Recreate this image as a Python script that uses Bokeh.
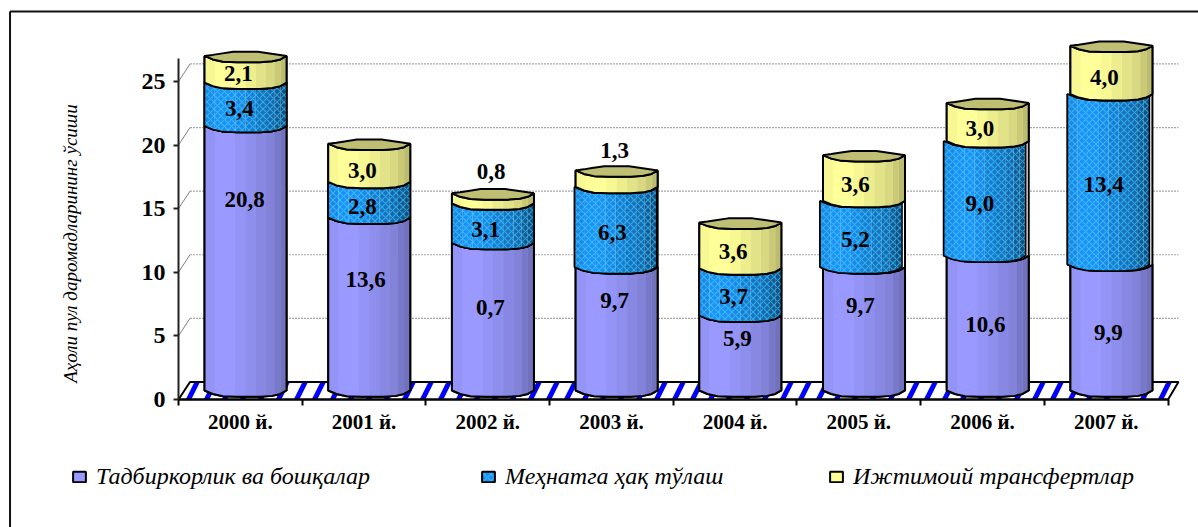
import numpy as np
from bokeh.plotting import figure
from bokeh.models import (ColumnDataSource, LinearAxis, FixedTicker, Legend, LegendItem, Range1d, Label)
from bokeh.core.properties import value
from bokeh.embed import file_html
from bokeh.resources import INLINE

# ---------- data ----------
years = ["2000 й.", "2001 й.", "2002 й.", "2003 й.", "2004 й.", "2005 й.", "2006 й.", "2007 й."]
business = [20.8, 13.6, 11.6, 9.7, 5.9, 9.7, 10.6, 9.9]
wages = [3.4, 2.8, 3.1, 6.3, 3.7, 5.2, 9.0, 13.4]
transfers = [2.1, 3.0, 0.8, 1.3, 3.6, 3.6, 3.0, 3.8]
business_labels = ["20,8", "13,6", "0,7", "9,7", "5,9", "9,7", "10,6", "9,9"]
wages_labels = ["3,4", "2,8", "3,1", "6,3", "3,7", "5,2", "9,0", "13,4"]
transfers_labels = ["2,1", "3,0", "0,8", "1,3", "3,6", "3,6", "3,0", "4,0"]
series_names = ["Тадбиркорлик ва бошқалар", "Меҳнатга ҳақ тўлаш", "Ижтимоий трансфертлар"]
y_ticks = [0, 5, 10, 15, 20, 25]
y_title = "Аҳоли пул даромадларининг ўсиши"

# label anchors as drawn in the reference (axis units)
label_x = [[.534, 1.512, 2.522, 3.525, 4.519, 5.513, 6.524, 7.518],
           [.493, 1.487, 2.482, 3.508, 4.487, 5.473, 6.479, 7.478],
           [.485, 1.487, 2.527, 3.525, 4.483, 5.473, 6.479, 7.486]]
label_y = [[15.7, 9.4, 7.2, 7.8, 4.8, 7.4, 5.9, 5.3],
           [22.9, 15.2, 13.4, 13.1, 8.1, 12.6, 15.4, 16.9],
           [25.6, 18.0, 17.9, 19.6, 11.6, 16.9, 21.3, 25.3]]
# sideways slip of the blue band in the reference's later bars
wage_shift = [0, 0, 0, .008, 0, .024, .024, .024]

# ---------- styles ----------
FONT = "Liberation Serif"
colors = ["#9999FF", "#1E90F5", "#FFFF99"]
LID = "#BFBF73"
shade_edges = np.array([-1, -.75, -.5, -.25, 0, .25, .5, .7, .85, 1])
shades = [.97, 1, 1, .97, .93, .89, .85, .79, .74]
shade_power = [1, 2, 1]
front_u = [-1, -.8, -.55, -.2, .35, .65, .85, 1]
front_v = [0, -.55, -.9, -1, -1, -.85, -.55, 0]
back_u = [1, .8, .55, .3, -.3, -.6, -.8, -1]
back_v = [0, .3, .65, 1, 1, .55, .25, 0]
HALF_W, CX_SHIFT, DEPTH_Y = 0.3315, 0.042, 0.71
FRONT_B, BACK_B = 0.5, 0.33
WALL_DX, WALL_DY = 0.093, 1.38
WALL_END = 8.084
HATCH = dict(hatch_pattern="diagonal_cross", hatch_color="#40D8FF", hatch_scale=7, hatch_weight=1.2, hatch_alpha=.55)

# the frame fills the page; the axes are pinned at the data origin inside it
p = figure(width=1198, height=527, output_backend="svg", toolbar_location=None,
           x_range=Range1d(-1.439, 8.246), y_range=Range1d(-10.063, 31.368),
           x_axis_type=None, y_axis_type=None,
           min_border_left=0, min_border_right=0, min_border_top=0, min_border_bottom=0)
p.outline_line_color = None
p.grid.visible = False
p.background_fill_color = "white"

# outer chart border: only its top and left sides fall inside the photo
p.segment([-1.362, -1.362], [30.5, 30.5], [8.246, -1.362], [30.5, -10.063], line_color="#111111", line_width=2)

# wall grid lines with their slanted feet
grid_vals = [v for v in y_ticks if v > 0]
p.segment([WALL_DX] * 5, [v + WALL_DY for v in grid_vals], [WALL_END] * 5, [v + WALL_DY for v in grid_vals],
          line_color="#A6A6A6", line_width=1.2, line_dash="2 1")
p.segment([0] * 5, grid_vals, [WALL_DX] * 5, [v + WALL_DY for v in grid_vals],
          line_color="#808080", line_width=1)

# striped floor
p.patch([0, WALL_DX, WALL_END, 8.0], [0, WALL_DY, WALL_DY, 0], fill_color="white",
        hatch_pattern="right_diagonal_line", hatch_color="#0000FF", hatch_scale=36, hatch_weight=5,
        line_color="black", line_width=2)


def edge(u, base):
    return base + np.interp(u, front_u, front_v) * FRONT_B


stack = np.array([business, wages, transfers], dtype=float)
bottoms = np.vstack([np.zeros(8), np.cumsum(stack, axis=0)[:-1]])
tops = np.cumsum(stack, axis=0)
centers = np.arange(8) + .5 + CX_SHIFT
base_rs = []
for s in range(3):
    bx, by, fx, sx, sy, sc = [], [], [], [], [], []
    rgb = np.array([int(colors[s][k:k + 2], 16) for k in (1, 3, 5)])
    for i, c in enumerate(centers):
        y0, y1 = bottoms[s][i] + DEPTH_Y, tops[s][i] + DEPTH_Y
        us = np.array(front_u)
        shift = wage_shift[i] if s == 1 else 0
        bx.append(list(c + us * HALF_W) + list(c + us[::-1] * HALF_W))
        fx.append(list(c - shift + us * HALF_W) + list(c - shift + us[::-1] * HALF_W))
        by.append(list(edge(us, y0)) + list(edge(us[::-1], y1)))
        for k, shade in enumerate(shades):
            seg = np.array([u for u in sorted(set(front_u) | {shade_edges[k], shade_edges[k + 1]})
                            if shade_edges[k] <= u <= shade_edges[k + 1]])
            sx.append(list(c - shift + seg * HALF_W) + list(c - shift + seg[::-1] * HALF_W))
            sy.append(list(edge(seg, y0)) + list(edge(seg[::-1], y1)))
            sc.append("#%02x%02x%02x" % tuple((rgb * shade ** shade_power[s]).astype(int)))
    extra = HATCH if s == 1 else {}
    base_rs.append(p.patches(fx, by, fill_color=colors[s], line_color="black", line_width=2, **extra))
    if s == 1:
        p.patches(bx, by, fill_color="white", line_color="black", line_width=2)
    p.patches(sx, sy, fill_color=sc, line_color=None)
    if s == 1:
        p.patches(fx, by, fill_alpha=0, line_color=None, **extra)
    p.patches(fx, by, fill_alpha=0, line_color="black", line_width=2 if s != 1 else 1.5)

# lids
lx, ly = [], []
for i, c in enumerate(centers):
    t = tops[2][i] + DEPTH_Y
    lx.append(list(c + np.array(front_u) * HALF_W) + list(c + np.array(back_u) * HALF_W))
    ly.append(list(t + np.array(front_v) * FRONT_B) + list(t + np.array(back_v) * BACK_B))
p.patches(lx, ly, fill_color=LID, line_color="black", line_width=2)

# value labels
all_labels = [business_labels, wages_labels, transfers_labels]
for s in range(3):
    src = ColumnDataSource(dict(x=label_x[s], y=label_y[s], t=all_labels[s]))
    p.text("x", "y", text="t", source=src, text_align="center", text_baseline="middle",
           text_font=value(FONT), text_font_style="bold", text_font_size="23px", text_color="black")

# axes
left = LinearAxis(ticker=FixedTicker(ticks=y_ticks), bounds=(0, 26.8), fixed_location=0)
left.major_tick_out, left.major_tick_in = 5, 0
left.minor_tick_line_color = None
left.axis_line_width = left.major_tick_line_width = 2
left.axis_line_color = left.major_tick_line_color = "#222222"
left.major_label_text_font = FONT
left.major_label_text_font_style = "bold"
left.major_label_text_font_size = "24px"
left.major_label_text_color = "black"
left.major_label_standoff = 8
p.add_layout(left, "left")

bottom = LinearAxis(ticker=FixedTicker(ticks=[i + .5 for i in range(8)], minor_ticks=list(range(9))),
                    bounds=(0, 8), fixed_location=0)
bottom.major_label_overrides = {i + .5: y for i, y in enumerate(years)}
bottom.major_tick_line_color = None
bottom.major_tick_out = 0
bottom.major_tick_in = 0
bottom.minor_tick_out, bottom.minor_tick_in = 6, 0
bottom.minor_tick_line_width = bottom.axis_line_width = 2
bottom.minor_tick_line_color = bottom.axis_line_color = "black"
bottom.major_label_text_font = FONT
bottom.major_label_text_font_style = "bold"
bottom.major_label_text_font_size = "21px"
bottom.major_label_text_color = "black"
bottom.major_label_standoff = 5
p.add_layout(bottom, "below")

p.add_layout(Label(x=-.873, y=12.26, text=y_title, angle=np.pi / 2, text_align="center", text_baseline="middle",
                   text_font=FONT, text_font_style="italic", text_font_size="19px", text_color="black"))

for s, xo in enumerate([71, 480, 828]):
    lg = Legend(items=[LegendItem(label=series_names[s], renderers=[base_rs[s]])],
                location=(xo, 37), orientation="horizontal",
                background_fill_alpha=0, border_line_color=None, padding=0, margin=0,
                glyph_width=16, glyph_height=13, label_standoff=9,
                label_text_font=FONT, label_text_font_style="italic", label_text_font_size="24px",
                label_text_color="black")
    p.add_layout(lg, "center")

open("out.html", "w").write(file_html(p, INLINE))
